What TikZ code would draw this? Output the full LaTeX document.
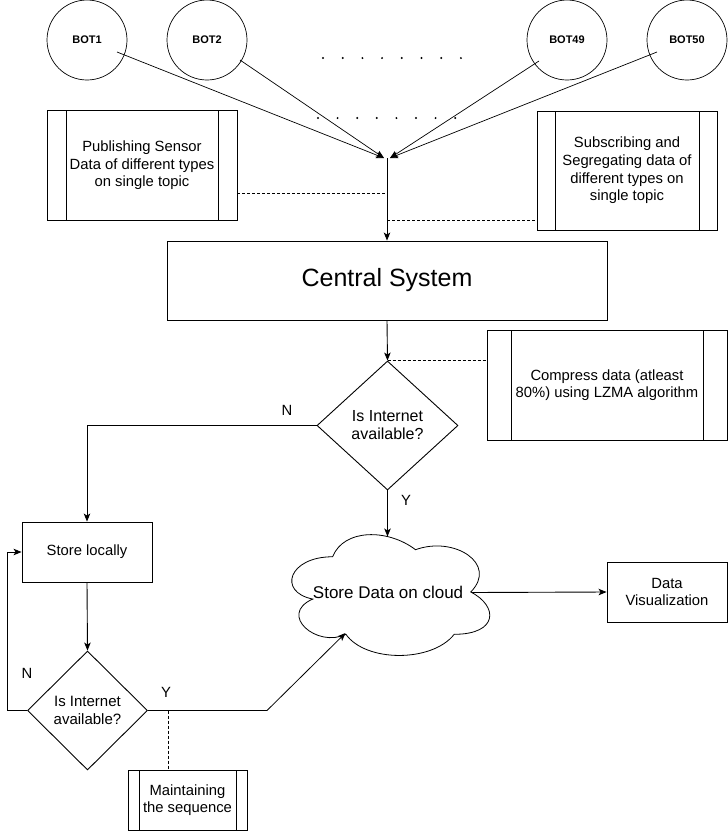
\documentclass[tikz,border=0pt]{standalone}
\usepackage{fontspec}
\setmainfont{Liberation Sans}
\usetikzlibrary{arrows.meta,shapes.geometric,calc}
\newcommand\myfs{\fontsize{14.8}{17.6}\selectfont}
\tikzset{
  box/.style={draw, line width=0.9pt, align=center, inner sep=0pt, font=\myfs},
  procbox/.style={box, path picture={
      \draw[line width=0.9pt] ([xshift=#1]path picture bounding box.north west) -- ([xshift=#1]path picture bounding box.south west);
      \draw[line width=0.9pt] ([xshift=-#1]path picture bounding box.north east) -- ([xshift=-#1]path picture bounding box.south east);}},
  botc/.style={draw, circle, line width=0.7pt, minimum size=80pt, inner sep=0pt, font=\fontsize{11}{13}\selectfont\bfseries},
  dec/.style={draw, diamond, line width=0.9pt, inner sep=0pt, align=center, font=\myfs},
  arr/.style={line width=0.9pt, -{Stealth[length=8pt,width=6.5pt,inset=2pt]}},
  thinarr/.style={line width=0.7pt, -{Stealth[length=8pt,width=6.5pt,inset=2pt]}},
  dashln/.style={line width=0.8pt, dash pattern=on 3pt off 2pt},
  lbl/.style={font=\myfs, inner sep=0pt}
}
\begin{document}
\begin{tikzpicture}[x=1pt,y=-1pt]
\useasboundingbox (0,0) rectangle (728,831);

% bots
\node[botc] (bot1) at (87,40) {BOT1};
\node[botc] (bot2) at (207,40) {BOT2};
\node[botc] (bot49) at (567,40) {BOT49};
\node[botc] (bot50) at (687,40) {BOT50};

% dots
\foreach \i in {0,...,7} {
  \fill (323+\i*19.7,58) circle (1.1);
  \fill (318+\i*19.6,118) circle (1.1);
}

% side boxes
\node[procbox=19pt, minimum width=190pt, minimum height=110pt] (pub) at (142,165.5)
  {Publishing Sensor\\Data of different types\\on single topic};
\node[procbox=18pt, minimum width=180pt, minimum height=119pt] (sub) at (627,170.5)
  {Subscribing and\\Segregating data of\\different types on\\single topic};

% central
\node[box, minimum width=440pt, minimum height=79pt, font=\fontsize{25}{29}\selectfont] (central) at (387,280.5) {Central System};

% convergence
\coordinate (tipL) at (384,158);
\coordinate (tipR) at (390,158);
\coordinate (junc) at (387,158);
\coordinate (b1o) at ($(bot1)+(30,12)$);
\coordinate (b2o) at ($(bot2)+(33,20)$);
\coordinate (b49o) at ($(bot49)+(-28,21)$);
\coordinate (b50o) at ($(bot50)+(-30,12)$);
\draw[thinarr] (b1o) -- (tipL);
\draw[thinarr] (b2o) -- (tipL);
\draw[thinarr] (b49o) -- (tipR);
\draw[thinarr] (b50o) -- (tipR);
\draw[arr] (junc) -- (central.north);

\coordinate (d1) at (387,193);
\coordinate (d2) at (387,220);
\draw[dashln] (pub.east |- d1) -- (d1);
\draw[dashln] (d2) -- (sub.west |- d2);

% decision 1
\node[dec, minimum width=141pt, minimum height=129pt, font=\fontsize{16}{18}\selectfont] (dia1) at (387.5,425.5) {Is Internet\\available?};
\draw[arr] (central.south) -- (dia1.north);
\node[procbox=24pt, minimum width=240pt, minimum height=110pt] (comp) at (607,385)
  {Compress data (atleast\\80\%) using LZMA algorithm};
\draw[dashln] (dia1.north) -- (comp.west |- dia1.north);

% store locally
\node[box, minimum width=130pt, minimum height=60pt] (sl) at (87,552) {Store locally};
\draw[arr] (dia1.west) -| (sl.north);
\node[lbl] (n1) at (287,410) {N};

% cloud
\node[inner sep=0pt, minimum width=221pt, minimum height=141pt, font=\fontsize{17}{20}\selectfont] (cloud) at (388.1,592.2) {Store Data on cloud};
\begin{scope}[shift={(cloud.north west)}, x=221pt, y=-141pt]
\draw[line width=0.8pt] (0.25,0.25) .. controls (0.05,0.25) and (0,0.5) .. (0.16,0.55)
  .. controls (0,0.66) and (0.18,0.9) .. (0.31,0.8)
  .. controls (0.4,1) and (0.7,1) .. (0.8,0.8)
  .. controls (1,0.8) and (1,0.6) .. (0.875,0.5)
  .. controls (1,0.3) and (0.8,0.1) .. (0.625,0.2)
  .. controls (0.5,0.05) and (0.3,0.05) .. (0.25,0.25) -- cycle;
\end{scope}
\coordinate (cloudtop) at (387.5,536.5);
\coordinate (cloudright) at (471.5,592.5);
\coordinate (cloudbl) at (345.5,633);
\draw[arr] (dia1.south) -- (cloudtop);
\node[lbl] (y1) at (406,500) {Y};

% data visualization
\node[box, minimum width=120pt, minimum height=60pt] (dv) at (667,592) {Data\\Visualization};
\draw[arr] (cloudright) -- (dv.west);

% decision 2
\node[dec, minimum width=120pt, minimum height=119pt, font=\fontsize{15}{18}\selectfont] (dia2) at (87.5,710.5) {Is Internet\\available?};
\draw[arr] (sl.south) -- (dia2.north);
\draw[arr] (dia2.west) -- ++(-19.5,0) |- (sl.west);
\node[lbl] (n2) at (27,673) {N};

\coordinate (bend) at (267,710.5);
\draw[line width=0.8pt, -{Stealth[length=8pt,width=6.5pt,inset=2pt]}] (dia2.east) -- (bend) -- (cloudbl);
\node[lbl] (y2) at (166,692) {Y};

% maintaining
\node[procbox=11pt, minimum width=119pt, minimum height=60pt] (maint) at (187.5,800)
  {Maintaining\\the sequence};
\coordinate (ms) at (168,710.5);
\draw[dashln] (ms) -- (ms |- maint.north);
\end{tikzpicture}
\end{document}
